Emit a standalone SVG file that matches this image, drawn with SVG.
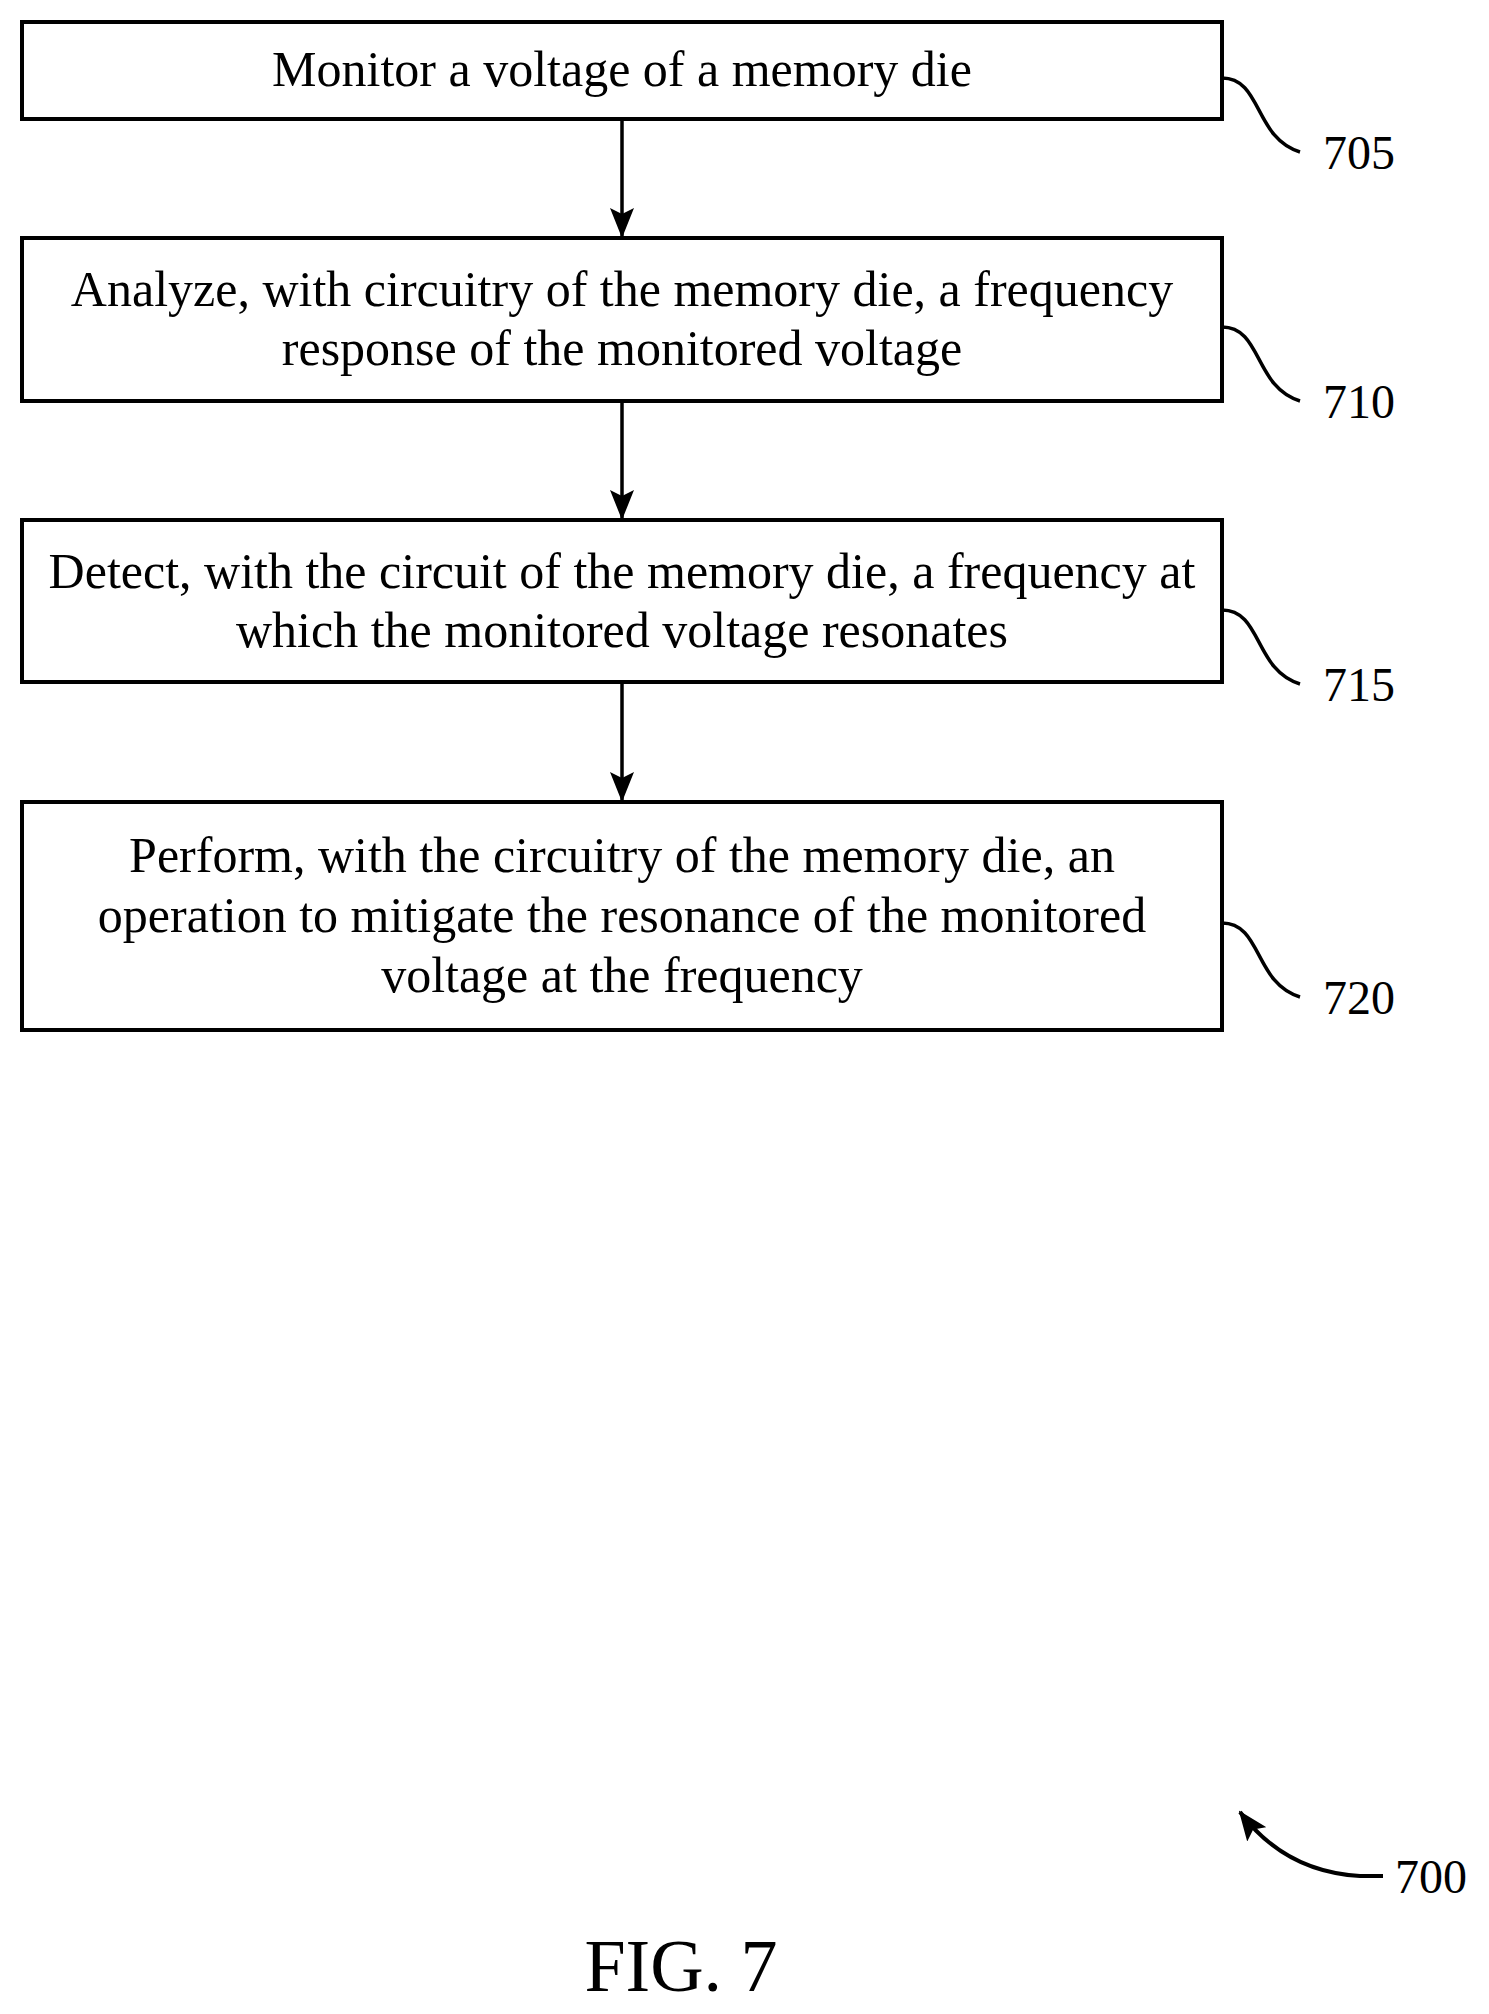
<svg xmlns="http://www.w3.org/2000/svg" width="1489" height="2014" viewBox="0 0 1489 2014">
<style>
.box{fill:#fff;stroke:#000;stroke-width:4}
.t{font-family:"Liberation Serif",serif;font-size:50px;text-anchor:middle}
.n{font-family:"Liberation Serif",serif;font-size:48px}
.c{fill:none;stroke:#000;stroke-width:3.5}
</style>
<defs>
<marker id="b" markerWidth="30" markerHeight="24" refX="28" refY="12" orient="auto" markerUnits="userSpaceOnUse"><path d="M0,0 L30,12 L0,24 L6,12 z"/></marker></defs>
<rect width="1489" height="2014" fill="#fff"/>
<g id="n705"><rect class="box" x="22" y="22" width="1200" height="97"/><text class="t" x="622" y="86">Monitor a voltage of a memory die</text></g>
<g id="n710"><rect class="box" x="22" y="238" width="1200" height="163"/><text class="t" x="622" y="306">Analyze, with circuitry of the memory die, a frequency</text><text class="t" x="622" y="365">response of the monitored voltage</text></g>
<g id="n715"><rect class="box" x="22" y="520" width="1200" height="162"/><text class="t" x="622" y="588">Detect, with the circuit of the memory die, a frequency at</text><text class="t" x="622" y="647">which the monitored voltage resonates</text></g>
<g id="n720"><rect class="box" x="22" y="802" width="1200" height="228"/><text class="t" x="622" y="872">Perform, with the circuitry of the memory die, an</text><text class="t" x="622" y="932">operation to mitigate the resonance of the monitored</text><text class="t" x="622" y="992">voltage at the frequency</text></g>
<g id="connectors">
<line class="c" x1="622" y1="119" x2="622" y2="236" marker-end="url(#b)"/>
<line class="c" x1="622" y1="401" x2="622" y2="518" marker-end="url(#b)"/>
<line class="c" x1="622" y1="682" x2="622" y2="800" marker-end="url(#b)"/>
<path class="c" d="M1222,78 C1262,78 1254,138 1300,152"/>
<path class="c" d="M1222,327 C1262,327 1254,387 1300,401"/>
<path class="c" d="M1222,610 C1262,610 1254,670 1300,684"/>
<path class="c" d="M1222,923 C1262,923 1254,983 1300,997"/>
<path class="c" style="stroke-width:4" d="M1383,1876 L1360,1876 Q1285,1872 1240,1812" marker-end="url(#b)"/>
</g>
<g id="labels">
<text class="n" x="1323" y="169">705</text>
<text class="n" x="1323" y="418">710</text>
<text class="n" x="1323" y="701">715</text>
<text class="n" x="1323" y="1014">720</text>
<text class="n" x="1395" y="1893">700</text>
<text style="font-family:'Liberation Serif',serif;font-size:74px;text-anchor:middle" x="681" y="1991">FIG. 7</text>
</g>
</svg>
